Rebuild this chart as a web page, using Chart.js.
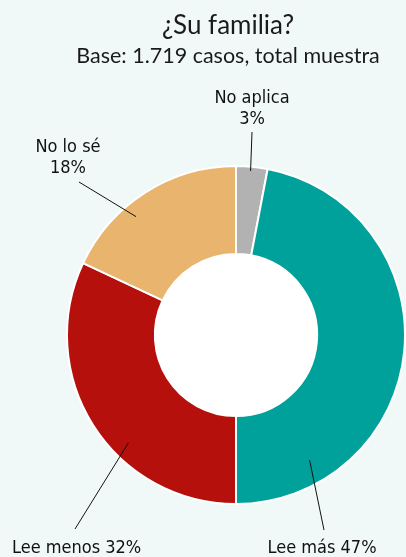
<!DOCTYPE html>
<html>
<head>
<meta charset="utf-8">
<script src="https://cdn.jsdelivr.net/npm/chart.js@4"></script>
<style>
  html, body { margin: 0; padding: 0; background: #f1f9f8; }
  #wrap { width: 406px; height: 557px; position: relative; }
</style>
</head>
<body>
<div id="wrap"><canvas id="chart" width="406" height="557"></canvas></div>
<script>
// --- datos ---
const categories = ['No aplica', 'Lee más', 'Lee menos', 'No lo sé'];
const percents = [3, 47, 32, 18];
const sliceColors = ['#b2b2b2', '#00a19a', '#b5100c', '#e8b46e'];

const TITLE = '¿Su familia?';
const SUBTITLE = 'Base: 1.719 casos, total muestra';

// posicion de las etiquetas (texto + linea guia), indice = categoria
const labelLayout = [
    { lines: ['No aplica', '3%'], x: 252, y: 103, align: 'center', from: [252, 132], frac: 0.47, depth: 0.95 },
    { lines: ['Lee más 47%'], x: 322, y: 553, align: 'center', from: [324, 530], frac: 0.82, depth: 0.73 },
    { lines: ['Lee menos 32%'], x: 12, y: 553, align: 'left', from: [75, 529], frac: 0.39, depth: 0.81 },
    { lines: ['No lo sé', '18%'], x: 68, y: 152, align: 'center', from: [79, 182], frac: 0.38, depth: 0.84 }
];

const LABEL_FONT = "18px 'Liberation Sans Narrow', 'DejaVu Sans Condensed', sans-serif";

const textPlugin = {
    id: 'textos',
    beforeDatasetsDraw(chart) {
        // agujero blanco
        const arc = chart.getDatasetMeta(0).data[0];
        if (!arc) return;
        const ctx = chart.ctx;
        ctx.save();
        ctx.fillStyle = '#ffffff';
        ctx.beginPath();
        ctx.arc(arc.x, arc.y, arc.innerRadius + 1, 0, Math.PI * 2);
        ctx.fill();
        ctx.restore();
    },
    afterDatasetsDraw(chart) {
        const ctx = chart.ctx;
        const meta = chart.getDatasetMeta(0);
        ctx.save();

        // titulo
        ctx.fillStyle = '#1a1a1a';
        ctx.textAlign = 'center';
        ctx.textBaseline = 'alphabetic';
        ctx.font = "26px Lato, 'Open Sans', sans-serif";
        ctx.fillText(TITLE, 228, 34);
        ctx.font = "21.5px Lato, 'Open Sans', sans-serif";
        ctx.fillText(SUBTITLE, 228, 63);

        // etiquetas con lineas guia
        ctx.font = LABEL_FONT;
        labelLayout.forEach((lab, i) => {
            const el = meta.data[i];
            const p = el.getProps(['x', 'y', 'startAngle', 'endAngle', 'innerRadius', 'outerRadius'], true);
            const a = p.startAngle + (p.endAngle - p.startAngle) * lab.frac;
            const r = p.innerRadius + (p.outerRadius - p.innerRadius) * lab.depth;
            const ex = p.x + Math.cos(a) * r;
            const ey = p.y + Math.sin(a) * r;

            ctx.strokeStyle = '#111';
            ctx.lineWidth = 1;
            ctx.beginPath();
            ctx.moveTo(lab.from[0], lab.from[1]);
            ctx.lineTo(ex, ey);
            ctx.stroke();

            ctx.fillStyle = '#111';
            ctx.textAlign = lab.align;
            lab.lines.forEach((t, k) => ctx.fillText(t, lab.x, lab.y + k * 21));
        });
        ctx.restore();
    }
};

new Chart(document.getElementById('chart'), {
    type: 'doughnut',
    data: {
        labels: categories,
        datasets: [{
            data: percents,
            backgroundColor: sliceColors,
            borderColor: '#ffffff',
            borderWidth: 2
        }]
    },
    options: {
        responsive: false,
        animation: false,
        cutout: '48%',
        layout: { padding: { left: 66, right: 0, top: 165, bottom: 52 } },
        plugins: {
            legend: { display: false },
            tooltip: { enabled: false }
        }
    },
    plugins: [textPlugin]
});
</script>
</body>
</html>
